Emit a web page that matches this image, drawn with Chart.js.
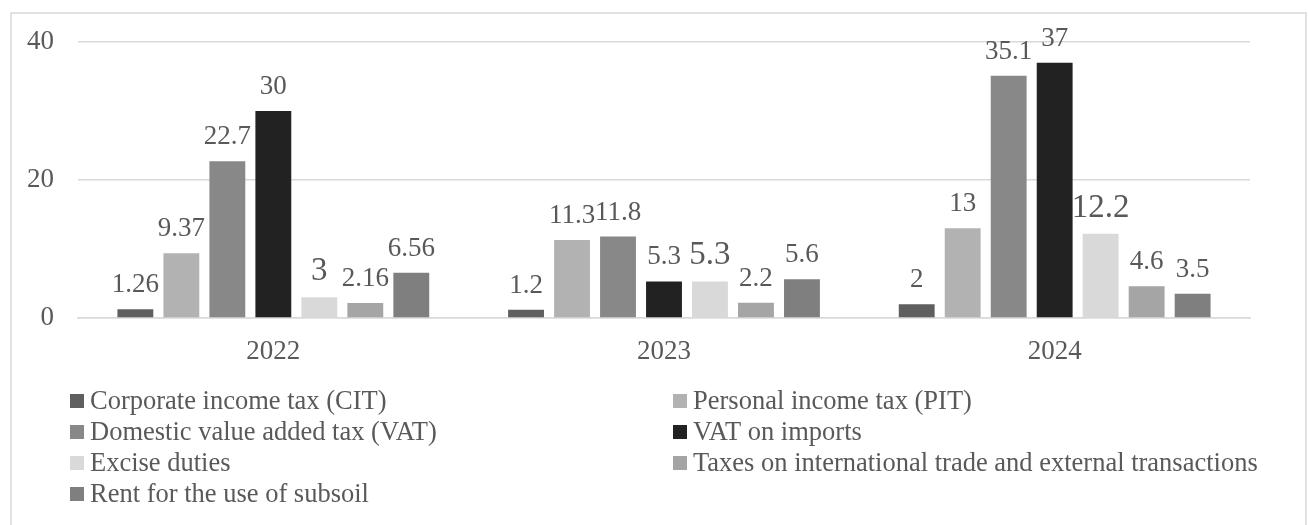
<!DOCTYPE html>
<html>
<head>
<meta charset="utf-8">
<script src="https://cdn.jsdelivr.net/npm/chart.js@4/dist/chart.umd.min.js"></script>
<style>
  html, body { margin: 0; padding: 0; background: #fff; }
  #wrap { width: 1308px; height: 525px; position: relative; }
</style>
</head>
<body>
<div id="wrap"><canvas id="taxChart"></canvas></div>
<script>
// years on the x axis
const years = ['2022', '2023', '2024'];

// series names (legend order)
const seriesNames = [
    'Corporate income tax (CIT)',
    'Personal income tax (PIT)',
    'Domestic value added tax (VAT)',
    'VAT on imports',
    'Excise duties',
    'Taxes on international trade and external transactions',
    'Rent for the use of subsoil'
];

// values per series, one per year
const citValues = [1.26, 1.2, 2];
const pitValues = [9.37, 11.3, 13];
const vatValues = [22.7, 11.8, 35.1];
const vatImportValues = [30, 5.3, 37];
const exciseValues = [3, 5.3, 12.2];
const tradeTaxValues = [2.16, 2.2, 4.6];
const subsoilValues = [6.56, 5.6, 3.5];

const yTicks = [0, 20, 40];

const seriesColors = ['#5f5f5f', '#b2b2b2', '#888888', '#222222', '#d9d9d9', '#a5a5a5', '#7f7f7f'];
const seriesValues = [citValues, pitValues, vatValues, vatImportValues, exciseValues, tradeTaxValues, subsoilValues];

const FONT = "'Liberation Serif', 'Times New Roman', serif";
const TEXT = '#595959';

// value labels above bars
const barLabels = {
    id: 'barLabels',
    afterDatasetsDraw(chart) {
        const ctx = chart.ctx;
        ctx.save();
        ctx.fillStyle = TEXT;
        ctx.textAlign = 'center';
        ctx.textBaseline = 'alphabetic';
        chart.data.datasets.forEach((ds, i) => {
            const size = i === 4 ? 33 : 27;
            ctx.font = size + 'px ' + FONT;
            chart.getDatasetMeta(i).data.forEach((bar, j) => {
                ctx.fillText(String(ds.data[j]), bar.x, bar.y - 17);
            });
        });
        ctx.restore();
    }
};

// two-column legend + outer frame
const frameAndLegend = {
    id: 'frameAndLegend',
    afterDraw(chart) {
        const ctx = chart.ctx;
        ctx.save();
        ctx.strokeStyle = '#d9d9d9';
        ctx.lineWidth = 1.5;
        ctx.strokeRect(11, 13, 1295, 530);

        ctx.font = '26.5px ' + FONT;
        ctx.textBaseline = 'middle';
        ctx.textAlign = 'left';
        const colX = [70, 673];
        const rowY = [401, 432, 463, 494];
        chart.data.datasets.forEach((ds, i) => {
            const x = colX[i % 2];
            const y = rowY[Math.floor(i / 2)];
            ctx.fillStyle = ds.backgroundColor;
            ctx.fillRect(x, y - 7, 14, 14);
            ctx.fillStyle = TEXT;
            ctx.fillText(ds.label, x + 20, y + 1);
        });
        ctx.restore();
    }
};

new Chart(document.getElementById('taxChart'), {
    type: 'bar',
    data: {
        labels: years,
        datasets: seriesNames.map((name, i) => ({
            label: name,
            data: seriesValues[i],
            backgroundColor: seriesColors[i],
            categoryPercentage: 0.824,
            barPercentage: 0.78
        }))
    },
    options: {
        responsive: true,
        maintainAspectRatio: false,
        animation: false,
        layout: { padding: { left: 0, right: 58, top: 42, bottom: 0 } },
        plugins: {
            legend: { display: false },
            tooltip: { enabled: false }
        },
        scales: {
            x: {
                grid: { display: false, drawTicks: false },
                border: { color: '#d9d9d9', width: 1.5 },
                ticks: { color: TEXT, font: { family: FONT, size: 27 }, padding: 18 },
                afterFit(scale) { scale.height = 207; }
            },
            y: {
                min: 0,
                max: 40,
                afterBuildTicks(scale) { scale.ticks = yTicks.map(v => ({ value: v })); },
                grid: { color: '#d9d9d9', lineWidth: 1.5, drawTicks: false },
                border: { display: false },
                ticks: { color: TEXT, font: { family: FONT, size: 27 }, padding: 24 },
                afterFit(scale) { scale.width = 78; }
            }
        }
    },
    plugins: [barLabels, frameAndLegend]
});
</script>
</body>
</html>
